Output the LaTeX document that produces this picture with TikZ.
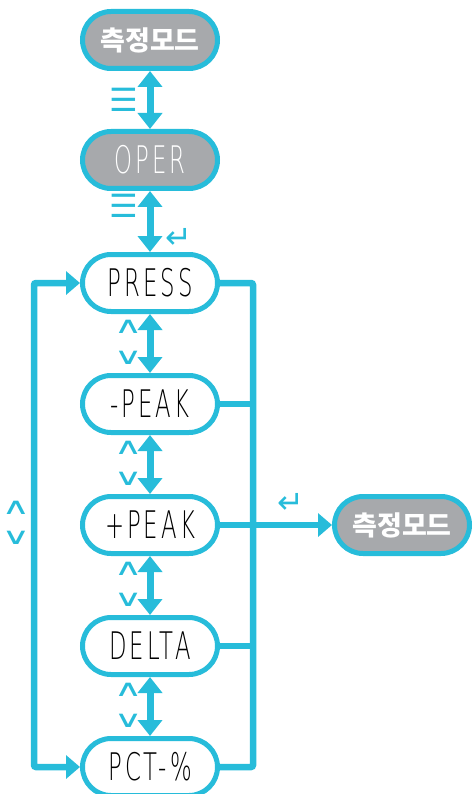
\documentclass[tikz,border=0pt]{standalone}
\usepackage{fontspec}
\usepackage{xcolor}
\usetikzlibrary{arrows.meta}
\newfontfamily\krfont{Noto Sans CJK KR}
\newfontfamily\symfont{DejaVu Sans}
\newfontfamily\chevfont{DejaVu Sans}[FakeStretch=1.7]
\newfontfamily\lcdfamily{DejaVu Sans ExtraLight}[FakeStretch=0.6, LetterSpace=8]
\definecolor{gaugeBlue}{HTML}{27BCDA}
\definecolor{gaugeGray}{HTML}{A7A9AC}
\newcommand{\lcdfont}{\lcdfamily\fontsize{38}{38}\selectfont}

\begin{document}
\begin{tikzpicture}[x=1pt, y=-1pt, node distance=121pt,
    stage/.style={rectangle, rounded corners=28.5pt, draw=gaugeBlue, line width=5pt,
        minimum width=135pt, minimum height=57pt, inner sep=0pt},
    modestage/.style={stage, fill=gaugeGray, text=white, font=\krfont\bfseries\fontsize{27}{27}\selectfont},
    lcdstage/.style={stage, fill=white, font=\lcdfont},
    updown/.style={draw=gaugeBlue, fill=gaugeBlue, line width=7pt,
        {Triangle[width=24pt,length=16pt]}-{Triangle[width=24pt,length=16pt]}},
    bus/.style={draw=gaugeBlue, line width=6.5pt, rounded corners=2pt},
    tip/.style={-{Triangle[width=23pt,length=14pt]}},
    menukey/.style={text=gaugeBlue, font=\symfont\fontsize{32}{32}\selectfont, inner sep=0pt},
    enterkey/.style={text=gaugeBlue, font=\symfont\fontsize{32}{32}\selectfont, inner sep=0pt},
    arrowkey/.style={text=gaugeBlue, font=\chevfont\fontsize{23}{23}\selectfont, inner sep=0pt}]
    \useasboundingbox (0,0) rectangle (472,794);

    \node[modestage] (mode) at (150,40) {측정모드};
    \node[modestage, font=\lcdfont, text=white] (oper) [below of = mode, yshift=1pt] {OPER};
    \node[lcdstage] (press) [below of = oper, yshift=-2pt] {PRESS};
    \node[lcdstage] (mpeak) [below of = press] {-PEAK};
    \node[lcdstage] (ppeak) [below of = mpeak] {+PEAK};
    \node[lcdstage] (delta) [below of = ppeak] {DELTA};
    \node[lcdstage] (pct) [below of = delta] {PCT-\%};
    \node[modestage] (mode2) [right of = ppeak, node distance=252pt] {측정모드};

    \path
        (mode) edge[updown] node[menukey, left=8pt] {☰} (oper)
        (oper) edge[updown] node[menukey, left=8pt, pos=0.25] {☰}
                    node[enterkey, right=12pt, pos=0.78] {↵} (press)
        (press) edge[updown] node[arrowkey, left=4pt, pos=0.22] {∧}
                     node[arrowkey, left=4pt, pos=0.74] {∨} (mpeak)
        (mpeak) edge[updown] node[arrowkey, left=4pt, pos=0.22] {∧}
                     node[arrowkey, left=4pt, pos=0.74] {∨} (ppeak)
        (ppeak) edge[updown] node[arrowkey, left=4pt, pos=0.22] {∧}
                     node[arrowkey, left=4pt, pos=0.74] {∨} (delta)
        (delta) edge[updown] node[arrowkey, left=4pt, pos=0.22] {∧}
                     node[arrowkey, left=4pt, pos=0.74] {∨} (pct)
    ;

    % loop back on the left
    \draw[bus, {Triangle[width=23pt,length=14pt]}-{Triangle[width=23pt,length=14pt]}]
        (press.west) -- ++(-46,0) |- (pct.west);
    \node[arrowkey] (up) at (16,508) {∧};
    \node[arrowkey] (down) at (16,538) {∨};

    % exit bus on the right
    \draw[bus] (press.east) -- ++(33,0) coordinate (bustop) |- (pct.east);
    \path[bus]
        (mpeak.east) edge (mpeak.east -| bustop)
        (delta.east) edge (delta.east -| bustop)
    ;
    \draw[bus, tip] (ppeak.east) -- node[enterkey, above=8pt, pos=0.63] {↵} (mode2.west);
\end{tikzpicture}
\end{document}
